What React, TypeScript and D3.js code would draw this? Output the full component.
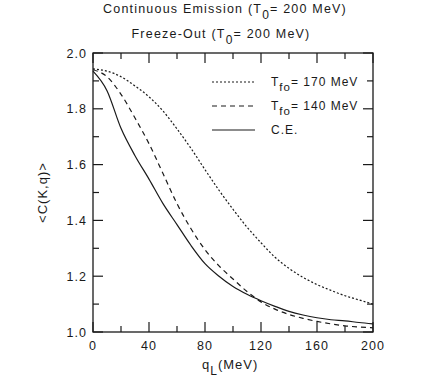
import React from 'react';
import * as d3 from 'd3';

// q_L (MeV) sample points
const qValues = [0, 10, 20, 30, 40, 50, 60, 70, 80, 90, 100, 110, 120, 130, 140, 150, 160, 170, 180, 190, 200];

// <C(K,q)>
const fo170 = [1.943, 1.935, 1.915, 1.882, 1.843, 1.792, 1.728, 1.658, 1.582, 1.508, 1.44, 1.376, 1.32, 1.268, 1.228, 1.196, 1.17, 1.149, 1.13, 1.115, 1.1];
const fo140 = [1.94, 1.915, 1.852, 1.767, 1.675, 1.568, 1.46, 1.37, 1.295, 1.237, 1.19, 1.145, 1.108, 1.082, 1.063, 1.049, 1.038, 1.029, 1.022, 1.018, 1.015];
const ce = [1.935, 1.865, 1.73, 1.632, 1.548, 1.46, 1.385, 1.31, 1.245, 1.2, 1.163, 1.135, 1.112, 1.092, 1.074, 1.061, 1.051, 1.044, 1.04, 1.034, 1.029];

const xMajor = [0, 40, 80, 120, 160, 200];
const xMinor = [20, 60, 100, 140, 180];
const yMajor = [1.0, 1.2, 1.4, 1.6, 1.8, 2.0];
const yMinor = [1.1, 1.3, 1.5, 1.7, 1.9];

const series = [
  { label: '170', values: fo170, dash: '2,2' },
  { label: '140', values: fo140, dash: '5,4' },
  { label: 'C.E.', values: ce, dash: null },
];

const W = 425;
const H = 382;
const margin = { top: 53, right: 52, bottom: 50, left: 93 };
const FONT = '"Liberation Sans", Arial, sans-serif';
const INK = '#1a1a1a';

export default function App() {
  const x = d3.scaleLinear().domain([0, 200]).range([margin.left, W - margin.right]);
  const y = d3.scaleLinear().domain([1.0, 2.0]).range([H - margin.bottom, margin.top]);

  const line = d3
    .line<number>()
    .x((_, i) => x(qValues[i]))
    .y(d => y(d))
    .curve(d3.curveMonotoneX);

  const x0 = x.range()[0];
  const x1 = x.range()[1];
  const y0 = y.range()[0];
  const y1 = y.range()[1];
  const major = 10;
  const minor = 6;

  const legendX1 = 212;
  const legendX2 = 255;
  const legendY = [82, 106, 130];

  return (
    <div style={{ position: 'fixed', left: 0, top: 0, background: '#fff' }}>
      <svg width={W} height={H} style={{ display: 'block' }} fontFamily={FONT}>
        <rect width={W} height={H} fill="#fff" />

        {/* titles */}
        <text x={225} y={13} textAnchor="middle" fontSize={12.5} letterSpacing={1.2} fill={INK}>
          Continuous Emission (T
          <tspan dy={6} fontSize={12}>0</tspan>
          <tspan dy={-6}>= 200 MeV)</tspan>
        </text>
        <text x={221} y={38} textAnchor="middle" fontSize={12.5} letterSpacing={1.2} fill={INK}>
          Freeze-Out (T
          <tspan dy={6} fontSize={12}>0</tspan>
          <tspan dy={-6}>= 200 MeV)</tspan>
        </text>

        {/* frame */}
        <rect x={x0} y={y1} width={x1 - x0} height={y0 - y1} fill="none" stroke={INK} strokeWidth={1.3} />

        {/* x ticks */}
        {xMajor.map(v => (
          <g key={'xM' + v}>
            <line x1={x(v)} x2={x(v)} y1={y0} y2={y0 - major} stroke={INK} strokeWidth={1.2} />
            <line x1={x(v)} x2={x(v)} y1={y1} y2={y1 + major} stroke={INK} strokeWidth={1.2} />
            <text x={x(v)} y={y0 + 18} textAnchor="middle" fontSize={12.5} letterSpacing={1} fill={INK}>
              {v}
            </text>
          </g>
        ))}
        {xMinor.map(v => (
          <g key={'xm' + v}>
            <line x1={x(v)} x2={x(v)} y1={y0} y2={y0 - minor} stroke={INK} strokeWidth={1.2} />
            <line x1={x(v)} x2={x(v)} y1={y1} y2={y1 + minor} stroke={INK} strokeWidth={1.2} />
          </g>
        ))}

        {/* y ticks */}
        {yMajor.map(v => (
          <g key={'yM' + v}>
            <line x1={x0} x2={x0 + major} y1={y(v)} y2={y(v)} stroke={INK} strokeWidth={1.2} />
            <line x1={x1} x2={x1 - major} y1={y(v)} y2={y(v)} stroke={INK} strokeWidth={1.2} />
            <text x={x0 - 6} y={y(v) + 4.5} textAnchor="end" fontSize={12.5} letterSpacing={1} fill={INK}>
              {v.toFixed(1)}
            </text>
          </g>
        ))}
        {yMinor.map(v => (
          <g key={'ym' + v}>
            <line x1={x0} x2={x0 + minor} y1={y(v)} y2={y(v)} stroke={INK} strokeWidth={1.2} />
            <line x1={x1} x2={x1 - minor} y1={y(v)} y2={y(v)} stroke={INK} strokeWidth={1.2} />
          </g>
        ))}

        {/* axis titles */}
        <text x={202} y={369} fontSize={13} letterSpacing={1} fill={INK}>
          q
          <tspan dy={6} fontSize={12}>L</tspan>
          <tspan dy={-6}>(MeV)</tspan>
        </text>
        <text
          transform={`translate(47,${(y0 + y1) / 2}) rotate(-90)`}
          textAnchor="middle"
          fontSize={13}
          letterSpacing={1}
          fill={INK}
        >
          {'<C(K,q)>'}
        </text>

        {/* curves */}
        {series.map(s => (
          <path
            key={s.label}
            d={line(s.values) || ''}
            fill="none"
            stroke={INK}
            strokeWidth={1.2}
            strokeDasharray={s.dash || undefined}
          />
        ))}

        {/* legend */}
        {series.map((s, i) => (
          <g key={'lg' + s.label}>
            <line
              x1={legendX1}
              x2={legendX2}
              y1={legendY[i]}
              y2={legendY[i]}
              stroke={INK}
              strokeWidth={1.2}
              strokeDasharray={s.dash || undefined}
            />
            {s.dash ? (
              <text x={271} y={legendY[i] + 4} fontSize={12} letterSpacing={1} fill={INK}>
                T
                <tspan dy={5} fontSize={11.5}>fo</tspan>
                <tspan dy={-5}>= {s.label} MeV</tspan>
              </text>
            ) : (
              <text x={271} y={legendY[i] + 4} fontSize={12} letterSpacing={1} fill={INK}>
                {s.label}
              </text>
            )}
          </g>
        ))}
      </svg>
    </div>
  );
}
